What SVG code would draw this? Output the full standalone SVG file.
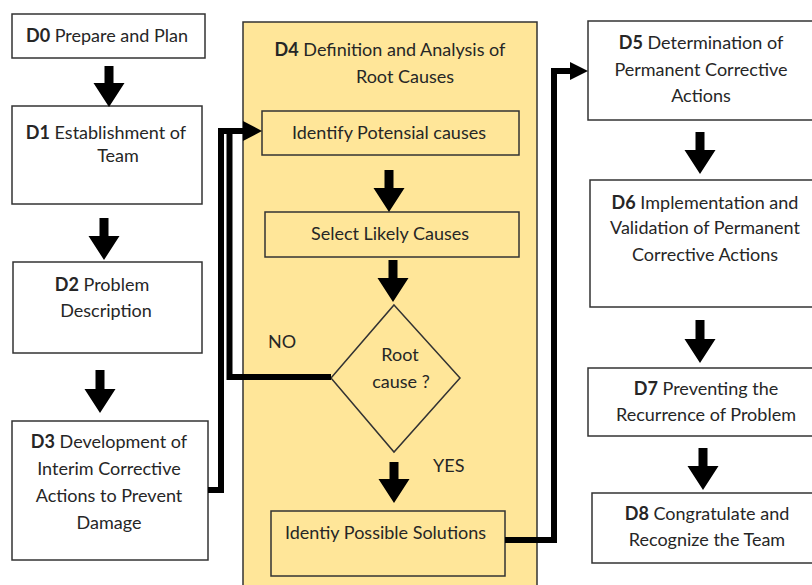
<svg xmlns="http://www.w3.org/2000/svg" width="812" height="585" viewBox="0 0 812 585">
<defs>
<style>
.box{fill:#fff;stroke:#333;stroke-width:1.5}
.ybox{fill:#FFE699;stroke:#333;stroke-width:1.5}
.t{font-family:Lato,"Liberation Sans",sans-serif;font-size:18px;fill:#262626;text-anchor:middle}
.l{font-family:Lato,"Liberation Sans",sans-serif;font-size:18px;fill:#262626}
.b{font-weight:bold}
.ln{fill:none;stroke:#000;stroke-width:6;stroke-linejoin:miter}
.ar{fill:#000}
</style>
</defs>
<rect id="bg" x="0" y="0" width="812" height="585" fill="#fff"/>
<g id="D4">
<rect class="ybox" x="243" y="22" width="294" height="575"/>
<text class="t" x="390" y="56"><tspan class="b">D4</tspan> Definition and Analysis of</text>
<text class="t" x="405" y="83">Root Causes</text>
</g>
<g id="D0"><rect class="box" x="12" y="14" width="193" height="44"/>
<text class="t" x="107" y="42"><tspan class="b">D0</tspan> Prepare and Plan</text></g>
<g id="D1"><rect class="box" x="12" y="106" width="190" height="98"/>
<text class="t" x="106" y="139"><tspan class="b">D1</tspan> Establishment of</text>
<text class="t" x="118" y="162">Team</text></g>
<g id="D2"><rect class="box" x="13" y="262" width="189" height="91"/>
<text class="t" x="102" y="291"><tspan class="b">D2</tspan> Problem</text>
<text class="t" x="106" y="317">Description</text></g>
<g id="D3"><rect class="box" x="12" y="421" width="196" height="139"/>
<text class="t" x="109" y="448"><tspan class="b">D3</tspan> Development of</text>
<text class="t" x="109" y="475">Interim Corrective</text>
<text class="t" x="109" y="502">Actions to Prevent</text>
<text class="t" x="109" y="529">Damage</text></g>
<g id="identify"><rect class="ybox" x="262" y="111" width="257" height="44"/>
<text class="t" x="389" y="139">Identify Potensial causes</text></g>
<g id="select"><rect class="ybox" x="265" y="212" width="254" height="45"/>
<text class="t" x="390" y="240">Select Likely Causes</text></g>
<g id="decision"><polygon class="ybox" points="394,305 460,378 394,452 331,378"/>
<text class="t" x="400" y="361">Root</text>
<text class="t" x="401" y="388">cause ?</text></g>
<g id="solutions"><rect class="ybox" x="271" y="511" width="234" height="65"/>
<text class="l" x="285" y="539">Identiy Possible Solutions</text></g>
<g id="D5"><rect class="box" x="588" y="21" width="230" height="99"/>
<text class="t" x="701" y="49"><tspan class="b">D5</tspan> Determination of</text>
<text class="t" x="701" y="76">Permanent Corrective</text>
<text class="t" x="701" y="102">Actions</text></g>
<g id="D6"><rect class="box" x="590" y="180" width="230" height="127"/>
<text class="t" x="705" y="209"><tspan class="b">D6</tspan> Implementation and</text>
<text class="t" x="705" y="234">Validation of Permanent</text>
<text class="t" x="705" y="261">Corrective Actions</text></g>
<g id="D7"><rect class="box" x="588" y="368" width="230" height="68"/>
<text class="t" x="706" y="395"><tspan class="b">D7</tspan> Preventing the</text>
<text class="t" x="706" y="421">Recurrence of Problem</text></g>
<g id="D8"><rect class="box" x="592" y="493" width="230" height="70"/>
<text class="t" x="707" y="520"><tspan class="b">D8</tspan> Congratulate and</text>
<text class="t" x="707" y="546">Recognize the Team</text></g>
<g id="labels">
<text class="l" x="268" y="348">NO</text>
<text class="l" x="433" y="472">YES</text>
</g>
<g id="connectors">
<path class="ln" d="M208,490 H221 V131 H245"/>
<path class="ln" d="M331,377 H229.5 V131"/>
<polygon class="ar" points="243,121 262,131 243,141"/>
<path class="ln" d="M505,540 H554 V71 H572"/>
<polygon class="ar" points="570,62 588,71 570,80"/>
<path class="ar" d="M104.5,66 h9 v17 h11 l-15.5,24 l-15.5,-24 h11 z"/>
<path class="ar" d="M99.5,218 h9 v18 h11 l-15.5,24 l-15.5,-24 h11 z"/>
<path class="ar" d="M95.5,370 h9 v19 h11 l-15.5,24 l-15.5,-24 h11 z"/>
<path class="ar" d="M384.5,170 h9 v18 h11 l-15.5,24 l-15.5,-24 h11 z"/>
<path class="ar" d="M388.5,260 h9 v18 h11 l-15.5,24 l-15.5,-24 h11 z"/>
<path class="ar" d="M389.5,462 h9 v17 h11 l-15.5,24 l-15.5,-24 h11 z"/>
<path class="ar" d="M695.5,132 h9 v18 h11 l-15.5,24 l-15.5,-24 h11 z"/>
<path class="ar" d="M695.5,320 h9 v19 h11 l-15.5,24 l-15.5,-24 h11 z"/>
<path class="ar" d="M698.5,448 h9 v18 h11 l-15.5,24 l-15.5,-24 h11 z"/>
</g>
</svg>
